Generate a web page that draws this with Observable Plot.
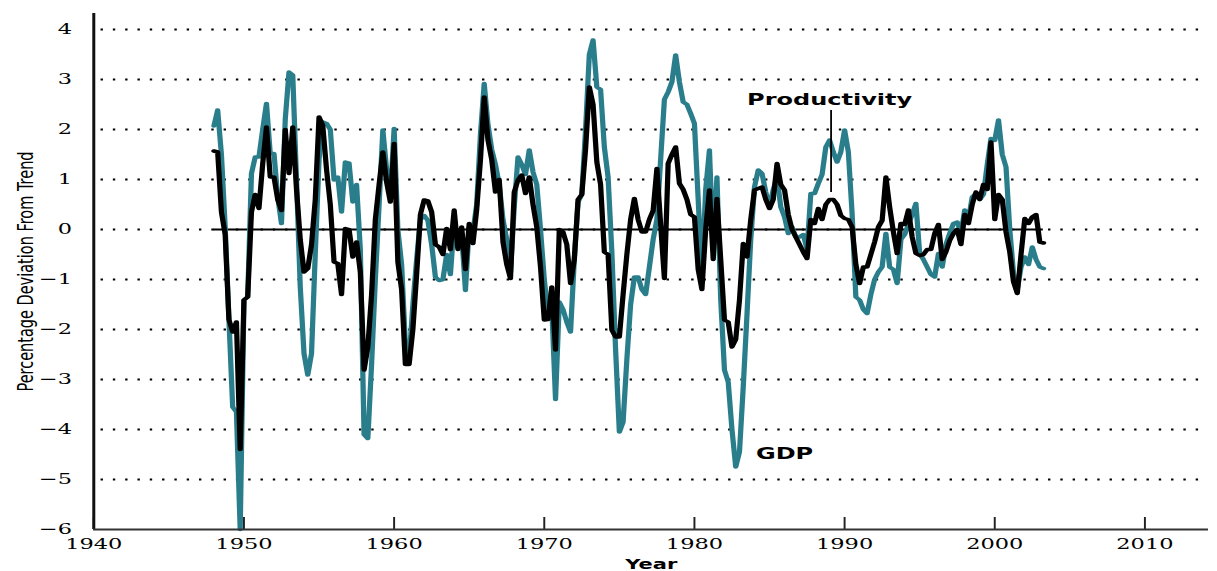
<!DOCTYPE html>
<html>
<head>
<meta charset="utf-8">
<script src="https://cdn.jsdelivr.net/npm/d3@7"></script>
<script src="https://cdn.jsdelivr.net/npm/@observablehq/plot@0.6"></script>
<style>
  html, body { margin: 0; padding: 0; background: #fff; overflow: hidden; }
  #chart { width: 811px; height: 571px; transform: scaleX(1.5006); transform-origin: 0 0; }
</style>
</head>
<body>
<div id="chart"></div>
<script>
// Quarterly series, first value = 1948 Q1
const startYear = 1948;
const gdp = [
  2.07, 2.39, 1.5, 0.05,
  -1.8, -3.55, -3.65, -6.0,
  -1.41, -1.35, 1.12, 1.45,
  1.45, 2.0, 2.52, 1.52,
  1.52, 0.65, 0.12, 2.2,
  3.15, 3.09, 1.0, -1.15,
  -2.48, -2.91, -2.48, -0.48,
  1.39, 2.15, 2.12, 2.0,
  0.99, 1.05, 0.35, 1.35,
  1.33, 0.55, 0.9, -0.4,
  -4.1, -4.18, -2.7, -1.0,
  0.5, 1.99, 1.2, 0.65,
  2.02, 0.0, -0.7, -2.3,
  -2.6, -1.5, -0.6, 0.2,
  0.28, 0.18, -0.3, -0.95,
  -1.02, -1.0, -0.5, -0.9,
  0.15, -0.35, -0.1, -1.22,
  0.05, -0.05, 0.5, 1.9,
  2.92, 2.1, 1.6, 1.3,
  0.9, 0.2, -0.2, -0.85,
  0.45, 1.45, 1.3, 1.1,
  1.59, 1.15, 0.9, 0.0,
  -1.0, -1.68, -1.55, -3.4,
  -1.45, -1.6, -1.85, -2.05,
  -0.6, 0.55, 0.7, 2.0,
  3.5, 3.79, 2.85, 2.8,
  1.65, 1.05, -0.45, -2.4,
  -4.05, -3.85, -2.6, -1.5,
  -0.95, -0.95, -1.2, -1.3,
  -0.75, -0.2, 0.2, 1.4,
  2.6, 2.75, 2.95, 3.49,
  2.95, 2.55, 2.5, 2.32,
  2.12, 0.6, -0.95, 0.8,
  1.59, -0.4, 1.05, -1.4,
  -2.81, -3.05, -4.0, -4.75,
  -4.45, -3.15, -1.7, -0.2,
  0.85, 1.19, 1.12, 0.75,
  0.45, 0.8, 1.05, 0.45,
  0.25, -0.08, 0.05, -0.15,
  -0.15, -0.1, -0.4, 0.72,
  0.72, 0.92, 1.1, 1.65,
  1.79, 1.55, 1.35, 1.55,
  1.99, 1.55, 0.32, -1.35,
  -1.41, -1.6, -1.68, -1.3,
  -1.0, -0.85, -0.75, -0.08,
  -0.75, -0.8, -1.08, -0.2,
  -0.1, 0.1, 0.3, 0.52,
  -0.48, -0.6, -0.75, -0.9,
  -0.95, -0.48, -0.75, -0.3,
  -0.08, 0.12, 0.15, -0.08,
  0.39, 0.2, 0.65, 0.72,
  0.6, 0.7, 1.3, 1.82,
  1.78, 2.19, 1.5, 1.25,
  0.0, -0.88, -1.21, -0.75,
  -0.55, -0.7, -0.35, -0.6,
  -0.75, -0.78
];
const productivity = [
  1.57, 1.55, 0.35, -0.1,
  -1.8, -2.05, -1.85, -4.4,
  -1.41, -1.35, 0.35, 0.7,
  0.42, 1.32, 2.05, 1.05,
  1.05, 0.6, 0.38, 2.0,
  1.12, 2.05, 0.8, -0.2,
  -0.85, -0.78, -0.3, 0.6,
  2.25, 2.08, 1.2, 0.5,
  -0.65, -0.68, -1.3, 0.02,
  0.0, -0.55, -0.25, -0.85,
  -2.81, -2.35, -1.3, 0.2,
  0.9, 1.55, 0.95, 0.55,
  1.72, -0.65, -1.2, -2.7,
  -2.7, -2.0, -0.9, 0.3,
  0.59, 0.57, 0.35, -0.3,
  -0.35, -0.5, 0.02, -0.4,
  0.39, -0.4, 0.05, -0.8,
  0.12, -0.28, 0.4, 1.39,
  2.65, 1.79, 1.4, 0.75,
  1.0, -0.25, -0.7, -0.98,
  0.75, 0.99, 1.09, 0.72,
  1.05, 0.5, 0.05, -0.75,
  -1.81, -1.8, -1.15, -2.41,
  0.0, -0.05, -0.3, -1.08,
  -0.6, 0.6, 0.7, 1.6,
  2.85, 2.5, 1.35, 0.9,
  -0.45, -0.5, -2.01, -2.15,
  -2.15, -1.3, -0.5, 0.2,
  0.62, 0.2, -0.05, -0.05,
  0.2, 0.38, 1.22, 0.1,
  -0.98, 1.32, 1.5, 1.65,
  0.92, 0.8, 0.6, 0.3,
  0.25, -0.8, -1.2, 0.0,
  0.79, -0.6, 0.62, -0.6,
  -1.81, -1.85, -2.35, -2.2,
  -1.41, -0.28, -0.55, 0.2,
  0.79, 0.82, 0.85, 0.6,
  0.42, 0.6, 1.32, 0.9,
  0.79, 0.3, 0.0, -0.15,
  -0.3, -0.45, -0.58, 0.2,
  0.12, 0.42, 0.2, 0.5,
  0.6, 0.6, 0.5, 0.28,
  0.22, 0.2, 0.05, -0.7,
  -1.08, -0.75, -0.75, -0.5,
  -0.25, 0.05, 0.18, 1.05,
  0.45, -0.05, -0.48, 0.12,
  0.1, 0.39, -0.15, -0.48,
  -0.52, -0.5, -0.4, -0.4,
  -0.08, 0.1, -0.6, -0.45,
  -0.22, -0.08, 0.0, -0.3,
  0.3, 0.12, 0.5, 0.75,
  0.6, 0.9, 0.8, 1.75,
  0.2, 0.7, 0.6, -0.05,
  -0.45, -1.05, -1.28, -0.5,
  0.22, 0.12, 0.25, 0.3,
  -0.25, -0.27
];
const xTicks = [1940, 1950, 1960, 1970, 1980, 1990, 2000, 2010];
const yTicks = [-6, -5, -4, -3, -2, -1, 0, 1, 2, 3, 4];
const gridValues = [-5, -4, -3, -2, -1, 0, 1, 2, 3, 4];
const labelTexts = ["Productivity", "GDP"];
const labelYears = [1989, 1986];
const labelValues = [2.6, -4.49];
const leaderYear = 1989.1;
const leaderFrom = 0.74;
const leaderTo = 2.38;
const xLabel = "Year";
const yLabel = "Percentage Deviation From Trend";

const toRows = (arr) => arr.map((v, i) => ({year: startYear + i / 4, value: v}));
const gdpRows = toRows(gdp);
const prodRows = toRows(productivity);
const seriesStart = startYear;
const seriesEnd = startYear + (gdp.length - 1) / 4;
const labels = labelTexts.map((t, i) => ({text: t, year: labelYears[i], value: labelValues[i]}));

const W = 811, H = 571, mT = 13, mB = 42;
const innerH = H - mT - mB;

const chart = Plot.plot({
  width: W,
  height: H,
  marginLeft: 62,
  marginRight: 6,
  marginTop: mT,
  marginBottom: mB,
  style: {background: "#fff", fontFamily: "'DejaVu Serif', serif", fontSize: "15px", color: "#000"},
  x: {domain: [1940, 2014.25], ticks: xTicks, tickFormat: "d", tickSize: 0, tickPadding: 9, label: null},
  y: {domain: [-6, 4.32], ticks: yTicks, tickSize: 0, tickPadding: 14.5, label: null},
  marks: [
    Plot.ruleY(gridValues, {stroke: "#000", strokeWidth: 2, strokeDasharray: "1.6,6.6", insetLeft: 5}),
    Plot.ruleY([0], {x1: seriesStart, x2: seriesEnd, stroke: "#000", strokeWidth: 1.8}),
    Plot.line(gdpRows, {x: "year", y: "value", stroke: "#2a7e8c", strokeWidth: 3.5}),
    Plot.line(prodRows, {x: "year", y: "value", stroke: "#000", strokeWidth: 3.5}),
    Plot.ruleX(xTicks, {stroke: "#222", strokeWidth: 1.3, insetTop: innerH - 12}),
    Plot.ruleX([1940], {stroke: "#111", strokeWidth: 2}),
    Plot.ruleY([-6], {stroke: "#333", strokeWidth: 1.8}),
    Plot.ruleX([leaderYear], {y1: leaderFrom, y2: leaderTo, stroke: "#000", strokeWidth: 1.2}),
    Plot.text(labels, {x: "year", y: "value", text: "text", fontFamily: "'DejaVu Sans', sans-serif", fontWeight: "bold", fontSize: 16, lineAnchor: "middle", fill: "#000"}),
    Plot.text([xLabel], {text: (d) => d, frameAnchor: "bottom", dy: 35, fontFamily: "'DejaVu Sans', sans-serif", fontWeight: "bold", fontSize: 14, textAnchor: "middle", lineAnchor: "middle", fill: "#000"}),
    Plot.text([yLabel], {text: (d) => d, frameAnchor: "left", dx: -45, rotate: -90, fontFamily: "'DejaVu Sans', sans-serif", fontSize: 14.5, textAnchor: "middle", lineAnchor: "middle", fill: "#000"})
  ]
});
document.getElementById("chart").appendChild(chart);
</script>
</body>
</html>
